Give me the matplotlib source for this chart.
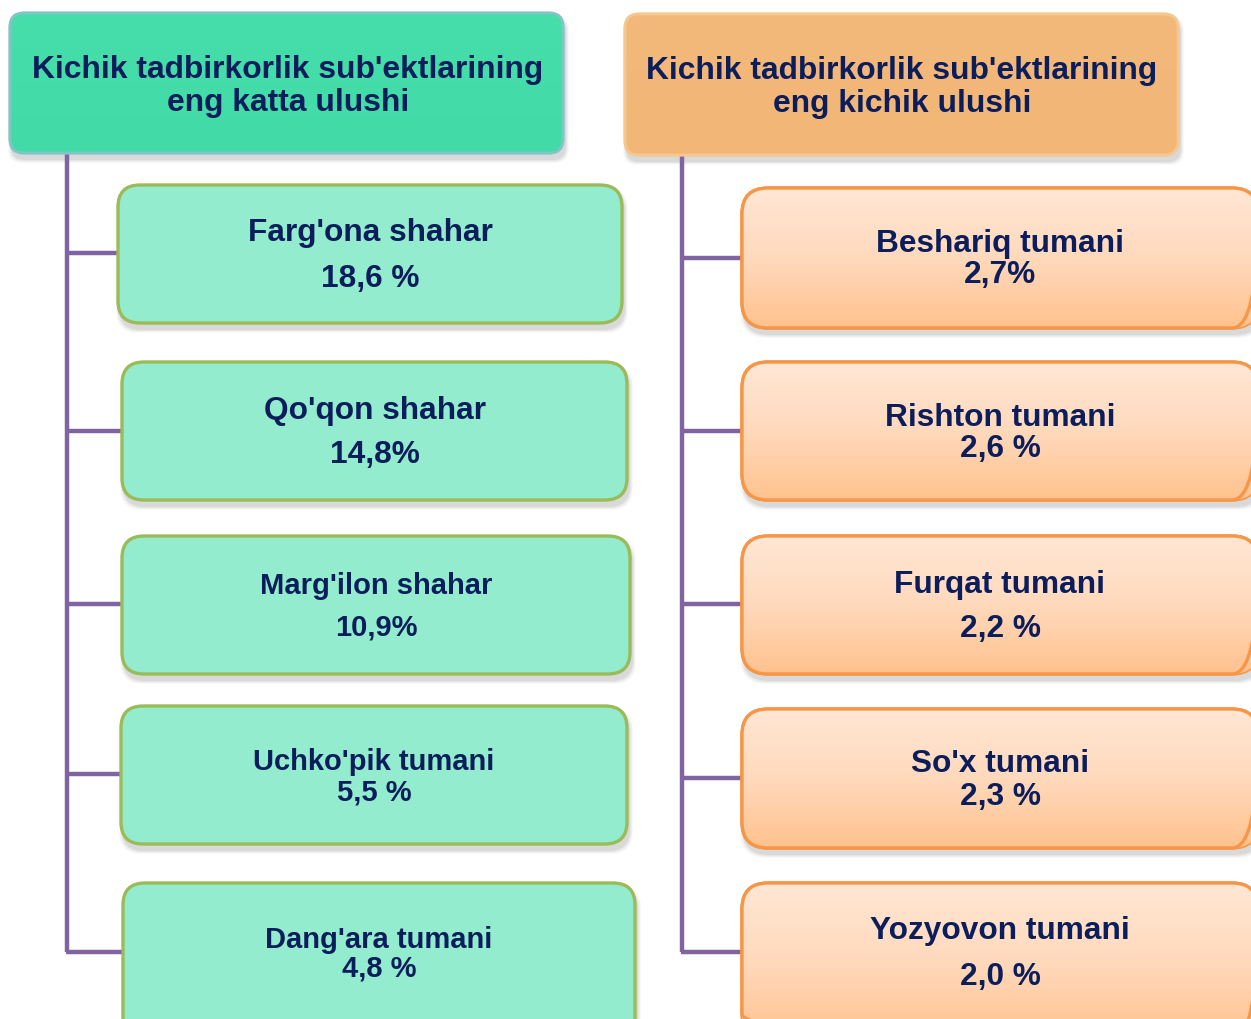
import matplotlib
matplotlib.use("Agg")
import matplotlib.pyplot as plt
import numpy as np
from matplotlib.patches import FancyBboxPatch
from matplotlib.colors import LinearSegmentedColormap

# ---- data ----
left_title = ["Kichik tadbirkorlik sub'ektlarining", "eng katta ulushi"]
right_title = ["Kichik tadbirkorlik sub'ektlarining", "eng kichik ulushi"]
left_names = ["Farg'ona shahar", "Qo'qon shahar", "Marg'ilon shahar",
              "Uchko'pik tumani", "Dang'ara tumani"]
left_values = [18.6, 14.8, 10.9, 5.5, 4.8]
left_space = [True, False, False, True, True]
right_names = ["Beshariq tumani", "Rishton tumani", "Furqat tumani",
               "So'x tumani", "Yozyovon tumani"]
right_values = [2.7, 2.6, 2.2, 2.3, 2.0]
right_space = [False, True, True, True, True]


def fmt(v, sp):
    return f"{v:.1f}".replace(".", ",") + (" %" if sp else "%")


# ---- layout (pixels) ----
W, H = 1251, 1019
fig = plt.figure(figsize=(W / 100, H / 100), dpi=100)
ax = fig.add_axes([0, 0, 1, 1])
ax.set_xlim(0, W)
ax.set_ylim(H, 0)
ax.axis("off")

FONT = "Liberation Sans"
TXT = "#0B1E5B"
LINE = "#8064A2"
DY = 3.5  # text vertical correction

left_boxes = [(118, 185, 622, 323), (122, 362, 627, 500), (122, 536, 630, 674),
              (121, 706, 627, 844), (123, 883, 635, 1040)]
left_text_y = [(229, 276), (407, 453), (583, 625), (759, 790), (936, 966)]
left_fs = [22.8, 22.8, 21, 21, 21]
left_branch = [253, 431, 604, 774, 952]

right_boxes = [(742, 188, 1258, 328), (742, 362, 1258, 500), (742, 536, 1258, 674),
               (742, 709, 1258, 848), (742, 883, 1258, 1040)]
right_text_y = [(240, 273), (414, 447), (581, 627), (760, 795), (928, 974)]
right_branch = [258, 431, 604, 778, 952]


def shadow(x0, y0, x1, y1, r):
    for k, a in [(8, 0.035), (6, 0.05), (4, 0.07), (2, 0.08)]:
        p = FancyBboxPatch((x0 + 2, y0 + 6), x1 - x0, y1 - y0,
                           boxstyle=f"round,pad={k / 2},rounding_size={r}",
                           fc="#555555", ec="none", alpha=a, zorder=1)
        ax.add_patch(p)


def box(x0, y0, x1, y1, fc, ec, lw=2.2, r=22, grad=None):
    shadow(x0, y0, x1, y1, r)
    p = FancyBboxPatch((x0, y0), x1 - x0, y1 - y0,
                       boxstyle=f"round,pad=0,rounding_size={r}",
                       fc=fc, ec=ec, lw=lw, zorder=3)
    ax.add_patch(p)
    if grad is not None:
        cmap = LinearSegmentedColormap.from_list("g", grad)
        g = np.linspace(0, 1, 256).reshape(-1, 1)
        im = ax.imshow(g, extent=(x0, x1, y1, y0), cmap=cmap, aspect="auto",
                       zorder=3.5, interpolation="bicubic")
        im.set_clip_path(p)
        p2 = FancyBboxPatch((x0, y0), x1 - x0, y1 - y0,
                            boxstyle=f"round,pad=0,rounding_size={r}",
                            fc="none", ec=ec, lw=lw, zorder=4)
        ax.add_patch(p2)


# connector lines
ax.plot([67, 67], [153, left_branch[-1]], color=LINE, lw=3.2, zorder=2,
        solid_capstyle="butt")
for y in left_branch:
    ax.plot([65.5, 122], [y, y], color=LINE, lw=3.2, zorder=2, solid_capstyle="butt")
ax.plot([682, 682], [155, right_branch[-1]], color=LINE, lw=3.2, zorder=2,
        solid_capstyle="butt")
for y in right_branch:
    ax.plot([680.5, 745], [y, y], color=LINE, lw=3.2, zorder=2, solid_capstyle="butt")

# headers
box(10, 13, 563, 153, "#44DDA8", "#80C6C6", lw=2.0, r=14,
    grad=["#46DEAA", "#42DAA6"])
box(625, 14, 1178, 155, "#F3B87A", "#F5C890", lw=2.0, r=14,
    grad=["#F3B97B", "#F2B676"])
for lines, cx, ys in [(left_title, 288, (66, 99)), (right_title, 902, (67, 100))]:
    for t, y in zip(lines, ys):
        ax.text(cx, y + DY, t, ha="center", va="center", fontsize=22.9,
                fontweight="bold", family=FONT, color=TXT, zorder=6)

# left boxes
for (x0, y0, x1, y1), (ny, vy), fs, name, v, sp in zip(
        left_boxes, left_text_y, left_fs, left_names, left_values, left_space):
    box(x0, y0, x1, y1, "#94ECCE", "#9BBB59", lw=2.4, r=22)
    cx = (x0 + x1) / 2
    ax.text(cx, ny + DY, name, ha="center", va="center", fontsize=fs,
            fontweight="bold", family=FONT, color=TXT, zorder=6)
    ax.text(cx, vy + DY - 1, fmt(v, sp), ha="center", va="center", fontsize=fs,
            fontweight="bold", family=FONT, color=TXT, zorder=6)

# right boxes
for (x0, y0, x1, y1), (ny, vy), name, v, sp in zip(
        right_boxes, right_text_y, right_names, right_values, right_space):
    box(x0, y0, x1, y1, "#FFD5B4", "#F79646", lw=2.4, r=26,
        grad=["#FFE7D5", "#FFD9BC", "#FFC28E"])
    cx = (x0 + x1) / 2
    ax.text(cx, ny + DY, name, ha="center", va="center", fontsize=22.8,
            fontweight="bold", family=FONT, color=TXT, zorder=6)
    ax.text(cx, vy + DY - 1, fmt(v, sp), ha="center", va="center", fontsize=22.8,
            fontweight="bold", family=FONT, color=TXT, zorder=6)

fig.savefig("out.png", dpi=100)
